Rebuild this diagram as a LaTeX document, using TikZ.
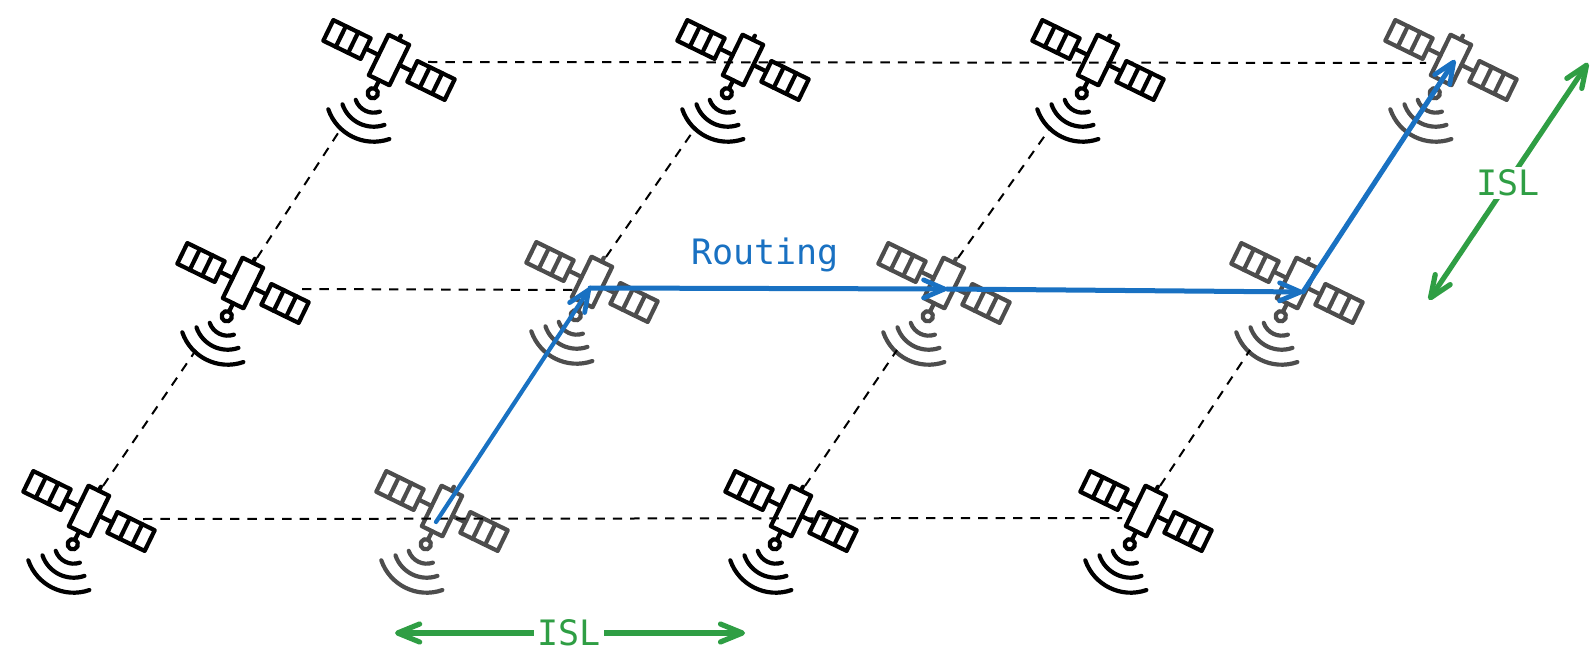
\documentclass[tikz,border=0pt]{standalone}
\usepackage{fontspec}
\setmainfont{DejaVu Sans Mono}
\usetikzlibrary{arrows.meta}
\definecolor{satgray}{HTML}{4D4D4D}
\definecolor{routeblue}{HTML}{1971C2}
\definecolor{islgreen}{HTML}{2F9E44}
\tikzset{
  sat/.pic={
    \coordinate (-n) at (14,-25);
    \coordinate (-s) at (-47,67);
    \begin{scope}[x=.5pt,y=.5pt,rotate=-26,line width=2.1pt,line join=round,line cap=round]
      \draw[fill=white] (-11.5,-22.5) rectangle (11.5,22.5);
      \draw (0,22.5) -- (0,27);
      \draw (-26,0) -- (-11.5,0) (11.5,0) -- (26,0);
      \foreach \s in {-1,1}{
        \begin{scope}[xscale=\s]
          \draw[fill=white] (26,-11.5) rectangle (67.5,11.5);
          \draw (39.8,-11.5) -- (39.8,11.5) (53.6,-11.5) -- (53.6,11.5);
        \end{scope}
      }
      \draw (0,-22.5) -- (0,-32);
      \draw (0,-37) circle[radius=2.6pt];
      \foreach \r in {19,33,48}{
        \draw ({1+\r*cos(225)},{-37+\r*sin(225)}) arc[start angle=225,end angle=315,radius=\r*.5pt];
      }
    \end{scope}
  },
  isolink/.style={line width=1pt,dash pattern=on 4.7pt off 4pt},
  route/.style={line width=2.5pt,routeblue,line cap=round,-{Straight Barb[length=10.5pt,width=9pt,line width=2.4pt,round]}},
  islarrow/.style={line width=2.6pt,islgreen,line cap=round,{Straight Barb[length=11pt,width=9pt,round]}-{Straight Barb[length=11pt,width=9pt,round]}},
  lbl/.style={font=\fontsize{17.5}{20}\selectfont,inner sep=1.5pt}
}
\begin{document}
\begin{tikzpicture}[x=.5pt,y=-.5pt]
\useasboundingbox (0,0) rectangle (1596,663);
% bottom row
\pic (s11) at (89,511) {sat};
\pic[color=satgray] (s12) at (442,511) {sat};
\pic (s13) at (791,511) {sat};
\pic (s14) at (1146,511) {sat};
% middle row
\pic (s21) at (243,283) {sat};
\pic[color=satgray] (s22) at (592,282) {sat};
\pic[color=satgray] (s23) at (944,283) {sat};
\pic[color=satgray] (s24) at (1297,283) {sat};
% top row
\pic (s31) at (389,60) {sat};
\pic (s32) at (743,60) {sat};
\pic (s33) at (1098,60) {sat};
\pic[color=satgray] (s34) at (1451,60) {sat};
% horizontal link ends
\coordinate (hb1) at (143,519);
\coordinate (hb2) at (1122,518);
\coordinate (hm1) at (302,289);
\coordinate (hm2) at (580,290);
\coordinate (ht1) at (428,62);
\coordinate (ht2) at (1426,63);
\draw[isolink] (hb1) -- (hb2);
\draw[isolink] (hm1) -- (hm2);
\draw[isolink] (ht1) -- (ht2);
% slanted links
\draw[isolink] (s11-n) -- (s21-s);
\draw[isolink] (s21-n) -- (s31-s);
\draw[isolink] (s22-n) -- (s32-s);
\draw[isolink] (s13-n) -- (s23-s);
\draw[isolink] (s23-n) -- (s33-s);
\draw[isolink] (s14-n) -- (s24-s);
% routing
\coordinate (r0) at (436,522);
\coordinate (r1) at (590,288);
\coordinate (r2) at (947,289);
\coordinate (r3) at (1303,292);
\coordinate (r4) at (1455,60);
\draw[route,line width=2.1pt] (r0) -- (r1);
\draw[route] (r1) -- (r2);
\draw[route] (r2) -- (r3);
\draw[route] (r3) -- (r4);
\node[lbl,text=routeblue] (routing) at (765,255) {Routing};
% ISL
\coordinate (ia) at (395,633);
\coordinate (ib) at (745,633);
\coordinate (ic) at (1588,63);
\coordinate (id) at (1429,300);
\draw[islarrow] (ia) -- (ib);
\draw[islarrow] (ic) -- (id);
\node[lbl,text=islgreen,fill=white] (islh) at (569,633) {ISL};
\node[lbl,text=islgreen,fill=white] (islv) at (1508,183) {ISL};
\end{tikzpicture}
\end{document}
